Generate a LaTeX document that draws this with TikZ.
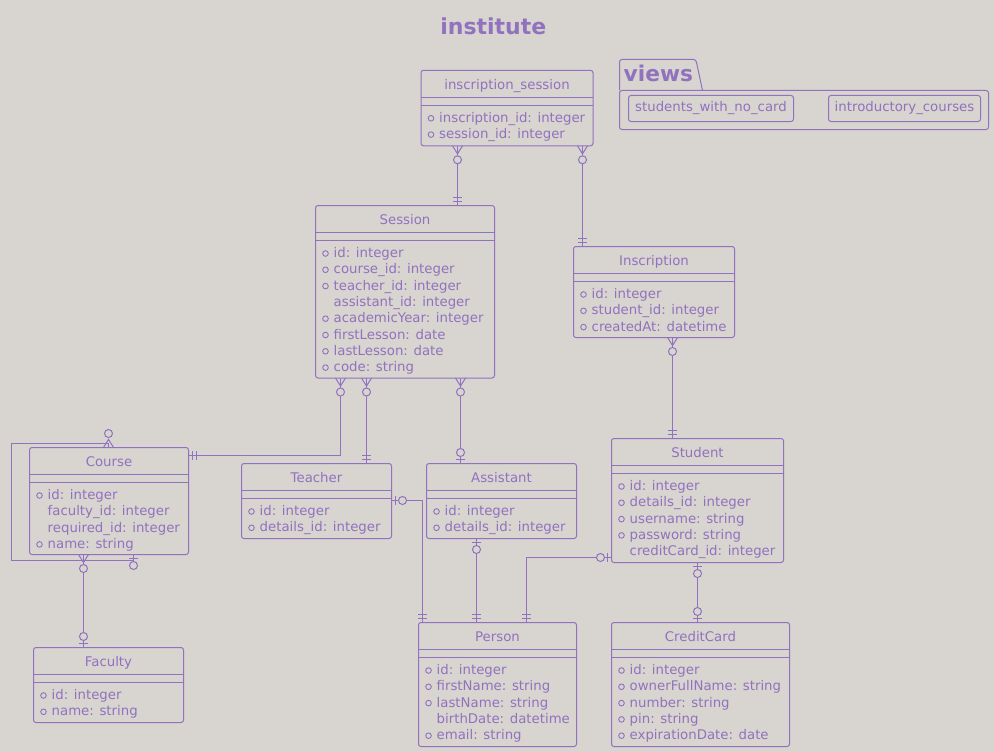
\documentclass[tikz,border=0pt]{standalone}
\usepackage{fontspec}
\setmainfont{DejaVu Sans}
\usetikzlibrary{calc}

\definecolor{bg}{RGB}{216,212,208}
\definecolor{ink}{RGB}{145,114,190}

\tikzset{
  eline/.style={draw=ink, line width=1pt},
  ebox/.style={eline, rectangle, rounded corners=2.5pt, inner sep=0pt, outer sep=0pt, anchor=north west},
  ename/.style={text=ink, inner sep=0pt, font=\fontsize{13.3}{16}\selectfont},
  eattr/.style={text=ink, inner sep=0pt, font=\fontsize{13.3}{16}\selectfont},
  bulletc/.style={draw=ink, line width=0.9pt},
  vbox/.style={ebox, text=ink, font=\fontsize{13.3}{16}\selectfont},
  zeromany/.pic={
    \draw[eline] (0,-5) -- (8,0) -- (0,5);
    \draw[eline, fill=bg] (14,0) circle[radius=4];
  },
  exactlyone/.pic={
    \draw[eline] (4,-4.5) -- (4,4.5) (8,-4.5) -- (8,4.5);
  },
  zeroone/.pic={
    \draw[eline] (4,-4.5) -- (4,4.5);
    \draw[eline, fill=bg] (11,0) circle[radius=4];
  },
}

% #1 name, #2 x, #3 y, #4 width, #5 height, #6 title, #7 attributes (bullet/text)
\newcommand\erentity[7]{%
  \node[ebox, minimum width=#4, minimum height=#5] (#1) at (#2,#3) {};
  \draw[eline] ($(#1.north west)+(0,27)$) -- ($(#1.north east)+(0,27)$)
               ($(#1.north west)+(0,35)$) -- ($(#1.north east)+(0,35)$);
  \node[ename, anchor=base] (#1-name) at ($(#1.north)+(0,18.8)$) {#6};
  \foreach \bl/\tx [count=\i] in {#7} {
    \node[eattr, anchor=base west] (#1-a\i) at ($(#1.north west)+(18,{35+17+(\i-1)*16.3})$) {\tx};
    \ifnum\bl=1 \draw[bulletc] ($(#1.north west)+(10,{35+13+(\i-1)*16.3})$) circle[radius=2.8];\fi
  }
}

\begin{document}
\begin{tikzpicture}[x=1pt, y=-1pt]
\fill[bg] (0,0) rectangle (994,752);
\useasboundingbox (0,0) rectangle (994,752);

% title
\node[text=ink, inner sep=0pt, anchor=base, font=\fontsize{22}{26}\selectfont\bfseries] (title) at (493.3,34.3) {institute};

% package of views
\node[ebox, minimum width=369, minimum height=39] (views) at (619.5,90.5) {};
\draw[eline, rounded corners=2.5pt] (views.north west) -- ++(0,-31) -- ++(76.4,0) -- ($(views.north west)+(83,0)$);
\node[text=ink, inner sep=0pt, anchor=base west, font=\fontsize{21.7}{26}\selectfont\bfseries] (views-name) at (623.5,81.7) {views};
\node[vbox, minimum width=165, minimum height=26] (vstudents) at (628.5,95.5) {students\_with\_no\_card};
\node[vbox, minimum width=152, minimum height=26] (vcourses) at (828.5,95.5) {introductory\_courses};

% entities
\erentity{inssess}{421}{70.3}{172}{75.5}{inscription\_session}{1/inscription\_id: integer,1/session\_id: integer}
\erentity{sess}{315.5}{205.5}{179}{172.5}{Session}{1/id: integer,1/course\_id: integer,1/teacher\_id: integer,0/assistant\_id: integer,1/academicYear: integer,1/firstLesson: date,1/lastLesson: date,1/code: string}
\erentity{insc}{573.5}{246.5}{161}{91}{Inscription}{1/id: integer,1/student\_id: integer,1/createdAt: datetime}
\erentity{course}{29.5}{447.5}{159}{107}{Course}{1/id: integer,0/faculty\_id: integer,0/required\_id: integer,1/name: string}
\erentity{teacher}{241.5}{463.5}{150}{75}{Teacher}{1/id: integer,1/details\_id: integer}
\erentity{assistant}{426.5}{463.5}{150}{75}{Assistant}{1/id: integer,1/details\_id: integer}
\erentity{student}{611.5}{438.5}{172}{124}{Student}{1/id: integer,1/details\_id: integer,1/username: string,1/password: string,0/creditCard\_id: integer}
\erentity{person}{418.5}{622.5}{158}{124}{Person}{1/id: integer,1/firstName: string,1/lastName: string,0/birthDate: datetime,1/email: string}
\erentity{creditcard}{611.5}{622.5}{178}{124}{CreditCard}{1/id: integer,1/ownerFullName: string,1/number: string,1/pin: string,1/expirationDate: date}
\erentity{faculty}{33.5}{647.5}{150}{75}{Faculty}{1/id: integer,1/name: string}

% routing points of the relations
\coordinate (k1) at (457.5,0);
\coordinate (k2) at (582.5,0);
\coordinate (k3) at (672.5,0);
\coordinate (k4) at (340.5,455.5);
\coordinate (k5) at (366.5,0);
\coordinate (k6) at (460.5,0);
\coordinate (k7) at (422.5,500.5);
\coordinate (k8) at (476.5,0);
\coordinate (k9) at (526.5,557.5);
\coordinate (k10) at (697.5,0);
\coordinate (k11) at (83.5,0);
\coordinate (k12a) at (108.5,443.5);
\coordinate (k12b) at (11.5,443.5);
\coordinate (k12c) at (11.5,560.5);
\coordinate (k12d) at (133.5,560.5);

% relations
\draw[eline] (k1 |- inssess.south) -- (k1 |- sess.north);
\draw[eline] (k2 |- inssess.south) -- (k2 |- insc.north);
\draw[eline] (k3 |- insc.south) -- (k3 |- student.north);
\draw[eline] (k4 |- sess.south) -- (k4) -- (k4 -| course.east);
\draw[eline] (k5 |- sess.south) -- (k5 |- teacher.north);
\draw[eline] (k6 |- sess.south) -- (k6 |- assistant.north);
\draw[eline] (k7 -| teacher.east) -- (k7) -- (k7 |- person.north);
\draw[eline] (k8 |- assistant.south) -- (k8 |- person.north);
\draw[eline] (k9 -| student.west) -- (k9) -- (k9 |- person.north);
\draw[eline] (k10 |- student.south) -- (k10 |- creditcard.north);
\draw[eline] (k11 |- course.south) -- (k11 |- faculty.north);
\draw[eline] (k12a |- course.north) -- (k12a) -- (k12b) -- (k12c) -- (k12d) -- (k12d |- course.south);

% relation ends
\pic[rotate=-90] at (k1 |- inssess.south) {zeromany};
\pic[rotate=90] at (k1 |- sess.north) {exactlyone};
\pic[rotate=-90] at (k2 |- inssess.south) {zeromany};
\pic[rotate=90] at (k2 |- insc.north) {exactlyone};
\pic[rotate=-90] at (k3 |- insc.south) {zeromany};
\pic[rotate=90] at (k3 |- student.north) {exactlyone};
\pic[rotate=-90] at (k4 |- sess.south) {zeromany};
\pic at (k4 -| course.east) {exactlyone};
\pic[rotate=-90] at (k5 |- sess.south) {zeromany};
\pic[rotate=90] at (k5 |- teacher.north) {exactlyone};
\pic[rotate=-90] at (k6 |- sess.south) {zeromany};
\pic[rotate=90] at (k6 |- assistant.north) {zeroone};
\pic at (k7 -| teacher.east) {zeroone};
\pic[rotate=90] at (k7 |- person.north) {exactlyone};
\pic[rotate=-90] at (k8 |- assistant.south) {zeroone};
\pic[rotate=90] at (k8 |- person.north) {exactlyone};
\pic[rotate=180] at (k9 -| student.west) {zeroone};
\pic[rotate=90] at (k9 |- person.north) {exactlyone};
\pic[rotate=-90] at (k10 |- student.south) {zeroone};
\pic[rotate=90] at (k10 |- creditcard.north) {zeroone};
\pic[rotate=-90] at (k11 |- course.south) {zeromany};
\pic[rotate=90] at (k11 |- faculty.north) {zeroone};
\pic[rotate=90] at (k12a |- course.north) {zeromany};
\pic[rotate=-90] at (k12d |- course.south) {zeroone};
\end{tikzpicture}
\end{document}
